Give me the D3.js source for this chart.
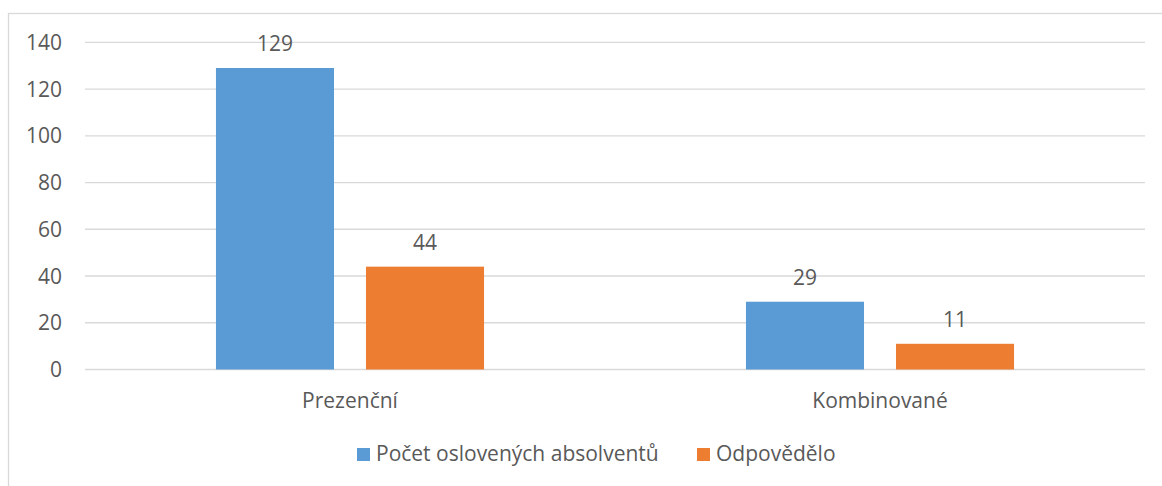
<!DOCTYPE html>
<html>
<head>
<meta charset="utf-8">
<script src="https://cdn.jsdelivr.net/npm/d3@7"></script>
<style>
  body { margin: 0; background: #fff; }
  svg { display: block; font-family: "Open Sans", "Noto Sans", sans-serif; }
  .grid line { stroke: #d9d9d9; stroke-width: 1.3; }
  .tick-label, .cat-label, .val-label, .legend text { fill: #595959; }
</style>
</head>
<body>
<svg id="chart" width="1162" height="486"></svg>
<script>
// data
const categories = ['Prezenční', 'Kombinované'];
const seriesNames = ['Počet oslovených absolventů', 'Odpovědělo'];
const osloveni = [129, 29];
const odpovedelo = [44, 11];
const yTicks = [0, 20, 40, 60, 80, 100, 120, 140];
const colors = ['#5b9bd5', '#ed7d31'];

const svg = d3.select('#chart');

// chart frame
svg.append('rect')
  .attr('x', 8.5).attr('y', 13.5)
  .attr('width', 1170).attr('height', 490)
  .attr('fill', 'none').attr('stroke', '#d9d9d9').attr('stroke-width', 1.3);

const plot = {left: 85, right: 1145, top: 42.3, bottom: 369.5};

const y = d3.scaleLinear().domain([0, 140]).range([plot.bottom, plot.top]);
const x0 = d3.scaleBand().domain(categories).range([plot.left, plot.right]).padding(0);
const x1 = d3.scaleBand().domain(seriesNames).range([0, x0.bandwidth()])
  .paddingInner(0.213).paddingOuter(0.873);

/////gridlines + y labels/////
let grid = svg.append('g').classed('grid', true);
grid.selectAll('line').data(yTicks).enter().append('line')
  .attr('x1', plot.left).attr('x2', plot.right)
  .attr('y1', d => y(d)).attr('y2', d => y(d));

svg.append('g').selectAll('text').data(yTicks).enter().append('text')
  .classed('tick-label', true)
  .attr('x', 62).attr('y', d => y(d) + 7.5)
  .attr('text-anchor', 'end')
  .style('font-size', '21px')
  .text(d => d);

/////bars/////
let rows = categories.map((c, i) => ({cat: c, vals: [osloveni[i], odpovedelo[i]]}));

let groups = svg.append('g').selectAll('g').data(rows).enter().append('g')
  .attr('transform', d => 'translate(' + x0(d.cat) + ',0)');

let bars = groups.selectAll('g').data(d => d.vals.map((v, j) => ({name: seriesNames[j], v: v, j: j})))
  .enter().append('g');

bars.append('rect')
  .attr('x', d => x1(d.name))
  .attr('y', d => y(d.v))
  .attr('width', x1.bandwidth())
  .attr('height', d => y(0) - y(d.v))
  .attr('fill', d => colors[d.j]);

bars.append('text').classed('val-label', true)
  .attr('x', d => x1(d.name) + x1.bandwidth() / 2)
  .attr('y', d => y(d.v) - 17)
  .attr('text-anchor', 'middle')
  .style('font-size', '21px')
  .text(d => d.v);

// category labels
groups.append('text').classed('cat-label', true)
  .attr('x', x0.bandwidth() / 2)
  .attr('y', 408)
  .attr('text-anchor', 'middle')
  .style('font-size', '21px')
  .text(d => d.cat);

/////legend/////
const legendX = [357, 697];
let legend = svg.append('g').classed('legend', true);
let items = legend.selectAll('g').data(seriesNames).enter().append('g')
  .attr('transform', (d, i) => 'translate(' + legendX[i] + ',448)');
items.append('rect').attr('width', 13).attr('height', 13).attr('fill', (d, i) => colors[i]);
items.append('text').attr('x', 19).attr('y', 13).style('font-size', '21px').text(d => d);
</script>
</body>
</html>
